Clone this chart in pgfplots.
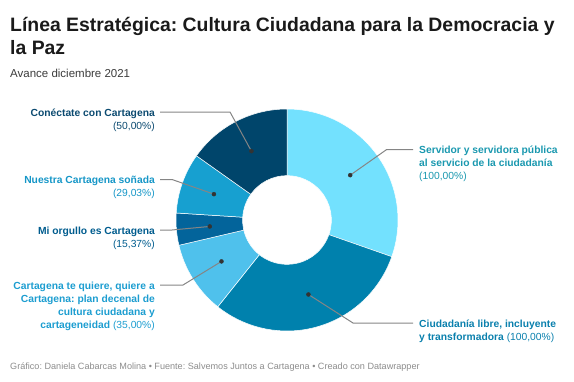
\documentclass[border=0pt]{standalone}
\usepackage{pgfplots}
\pgfplotsset{compat=1.18}
\usepackage{fontspec}
\setmainfont{Liberation Sans}
\frenchspacing
\definecolor{c1}{HTML}{73E1FE}
\definecolor{c2}{HTML}{0081AD}
\definecolor{c3}{HTML}{4FC1EC}
\definecolor{c4}{HTML}{03649B}
\definecolor{c5}{HTML}{17A0D0}
\definecolor{c6}{HTML}{00456B}
\definecolor{t1}{HTML}{1A98AF}
\definecolor{t2}{HTML}{0A80AD}
\definecolor{t3}{HTML}{1C9DD0}
\definecolor{t4}{HTML}{005C8E}
\definecolor{t5}{HTML}{1596C7}
\definecolor{t6}{HTML}{0B4A70}
\definecolor{leader}{HTML}{858585}
\definecolor{foot}{HTML}{8C8C8C}
\definecolor{ttl}{HTML}{1A1A1A}
\newcommand{\lf}{\fontsize{10.3}{13}\selectfont}
\begin{document}
\begin{tikzpicture}
\useasboundingbox (0,0) rectangle (574pt,-382pt);
% values: Servidor, Ciudadania, Cartagena te quiere, Mi orgullo, Nuestra, Conectate
\gdef\cum{0}
\foreach \v/\L in {100/a,100/b,35/c,15.37/d,29.03/e,50/f}{%
  \pgfmathsetmacro\cnew{\cum+\v}%
  \expandafter\xdef\csname cs\L\endcsname{\cum}%
  \expandafter\xdef\csname ce\L\endcsname{\cnew}%
  \xdef\cum{\cnew}%
}
\gdef\dotlist{}
\foreach \L in {a,b,c,d,e,f}{%
  \pgfmathsetmacro\fa{\csname cs\L\endcsname/\cum}%
  \pgfmathsetmacro\fb{\csname ce\L\endcsname/\cum}%
  \pgfmathsetmacro\aa{90-\fa*360}%
  \pgfmathsetmacro\bb{90-\fb*360}%
  \pgfmathsetmacro\mm{(\aa+\bb)/2}%
  \pgfmathsetmacro\dx{287+77.5*cos(\mm)}%
  \pgfmathsetmacro\dy{220-77.5*sin(\mm)}%
  \expandafter\xdef\csname S\L\endcsname{\aa}%
  \expandafter\xdef\csname E\L\endcsname{\bb}%
  \expandafter\xdef\csname X\L\endcsname{\dx}%
  \expandafter\xdef\csname Y\L\endcsname{\dy}%
  \xdef\dotlist{\dotlist(\dx,\dy)}%
}
\begin{axis}[at={(0,0)}, anchor=north west, x=1pt, y=1pt,
  xmin=0, xmax=574, ymin=0, ymax=382, y dir=reverse,
  hide axis, scale only axis, clip=false]
\fill[c1, draw=white, line width=0.5pt, shift={(axis cs:287,220)}] (\Sa:111pt) arc[start angle=\Sa, end angle=\Ea, radius=111pt] -- (\Ea:44.4pt) arc[start angle=\Ea, end angle=\Sa, radius=44.4pt] -- cycle;
\fill[c2, draw=white, line width=0.5pt, shift={(axis cs:287,220)}] (\Sb:111pt) arc[start angle=\Sb, end angle=\Eb, radius=111pt] -- (\Eb:44.4pt) arc[start angle=\Eb, end angle=\Sb, radius=44.4pt] -- cycle;
\fill[c3, draw=white, line width=0.5pt, shift={(axis cs:287,220)}] (\Sc:111pt) arc[start angle=\Sc, end angle=\Ec, radius=111pt] -- (\Ec:44.4pt) arc[start angle=\Ec, end angle=\Sc, radius=44.4pt] -- cycle;
\fill[c4, draw=white, line width=0.5pt, shift={(axis cs:287,220)}] (\Sd:111pt) arc[start angle=\Sd, end angle=\Ed, radius=111pt] -- (\Ed:44.4pt) arc[start angle=\Ed, end angle=\Sd, radius=44.4pt] -- cycle;
\fill[c5, draw=white, line width=0.5pt, shift={(axis cs:287,220)}] (\Se:111pt) arc[start angle=\Se, end angle=\Ee, radius=111pt] -- (\Ee:44.4pt) arc[start angle=\Ee, end angle=\Se, radius=44.4pt] -- cycle;
\fill[c6, draw=white, line width=0.5pt, shift={(axis cs:287,220)}] (\Sf:111pt) arc[start angle=\Sf, end angle=\Ef, radius=111pt] -- (\Ef:44.4pt) arc[start angle=\Ef, end angle=\Sf, radius=44.4pt] -- cycle;
% leader lines
\draw[leader, line width=1pt] (axis cs:\Xa,\Ya) -- (axis cs:386.7,149.5) -- (axis cs:413,149.5);
\draw[leader, line width=1pt] (axis cs:\Xb,\Yb) -- (axis cs:353,323) -- (axis cs:413,323);
\draw[leader, line width=1pt] (axis cs:\Xc,\Yc) -- (axis cs:183,285) -- (axis cs:160,285);
\draw[leader, line width=1pt] (axis cs:\Xd,\Yd) -- (axis cs:172,230) -- (axis cs:160,230);
\draw[leader, line width=1pt] (axis cs:\Xe,\Ye) -- (axis cs:172,179.5) -- (axis cs:160,179.5);
\draw[leader, line width=1pt] (axis cs:\Xf,\Yf) -- (axis cs:230,112) -- (axis cs:160,112);
\edef\tmp{\noexpand\addplot[only marks, mark=*, mark size=2pt, color=black!80] coordinates {\dotlist};}\tmp
% titles
\node[anchor=base west, inner sep=0, text=ttl, font=\fontsize{19.4}{23}\selectfont\bfseries] at (axis cs:10,31) {Línea Estratégica: Cultura Ciudadana para la Democracia y};
\node[anchor=base west, inner sep=0, text=ttl, font=\fontsize{19.4}{23}\selectfont\bfseries] at (axis cs:10,54) {la Paz};
\node[anchor=base west, inner sep=0, text=ttl!85, font=\fontsize{11.5}{14}\selectfont] at (axis cs:10,77) {Avance diciembre 2021};
\node[anchor=base west, inner sep=0, text=foot, font=\fontsize{9.1}{11}\selectfont] at (axis cs:10,369) {Gráfico: Daniela Cabarcas Molina • Fuente: Salvemos Juntos a Cartagena • Creado con Datawrapper};
% left labels
\node[anchor=base east, inner sep=0, text=t6, font=\lf\bfseries] at (axis cs:155,116) {Conéctate con Cartagena};
\node[anchor=base east, inner sep=0, text=t6, font=\lf] at (axis cs:155,129) {(50,00\%)};
\node[anchor=base east, inner sep=0, text=t5, font=\lf\bfseries] at (axis cs:155,183) {Nuestra Cartagena soñada};
\node[anchor=base east, inner sep=0, text=t5, font=\lf] at (axis cs:155,196) {(29,03\%)};
\node[anchor=base east, inner sep=0, text=t4, font=\lf\bfseries] at (axis cs:155,234) {Mi orgullo es Cartagena};
\node[anchor=base east, inner sep=0, text=t4, font=\lf] at (axis cs:155,247) {(15,37\%)};
\node[anchor=base east, inner sep=0, text=t3, font=\lf\bfseries] at (axis cs:155,289) {Cartagena te quiere, quiere a};
\node[anchor=base east, inner sep=0, text=t3, font=\lf\bfseries] at (axis cs:155,302) {Cartagena: plan decenal de};
\node[anchor=base east, inner sep=0, text=t3, font=\lf\bfseries] at (axis cs:155,315) {cultura ciudadana y};
\node[anchor=base east, inner sep=0, text=t3, font=\lf] at (axis cs:155,328) {{\bfseries cartageneidad} (35,00\%)};
% right labels
\node[anchor=base west, inner sep=0, text=t1, font=\lf\bfseries] at (axis cs:419,153.5) {Servidor y servidora pública};
\node[anchor=base west, inner sep=0, text=t1, font=\lf\bfseries] at (axis cs:419,166.5) {al servicio de la ciudadanía};
\node[anchor=base west, inner sep=0, text=t1, font=\lf] at (axis cs:419,179.5) {(100,00\%)};
\node[anchor=base west, inner sep=0, text=t2, font=\lf\bfseries] at (axis cs:419,327) {Ciudadanía libre, incluyente};
\node[anchor=base west, inner sep=0, text=t2, font=\lf] at (axis cs:419,340) {{\bfseries y transformadora} (100,00\%)};
\end{axis}
\end{tikzpicture}
\end{document}
